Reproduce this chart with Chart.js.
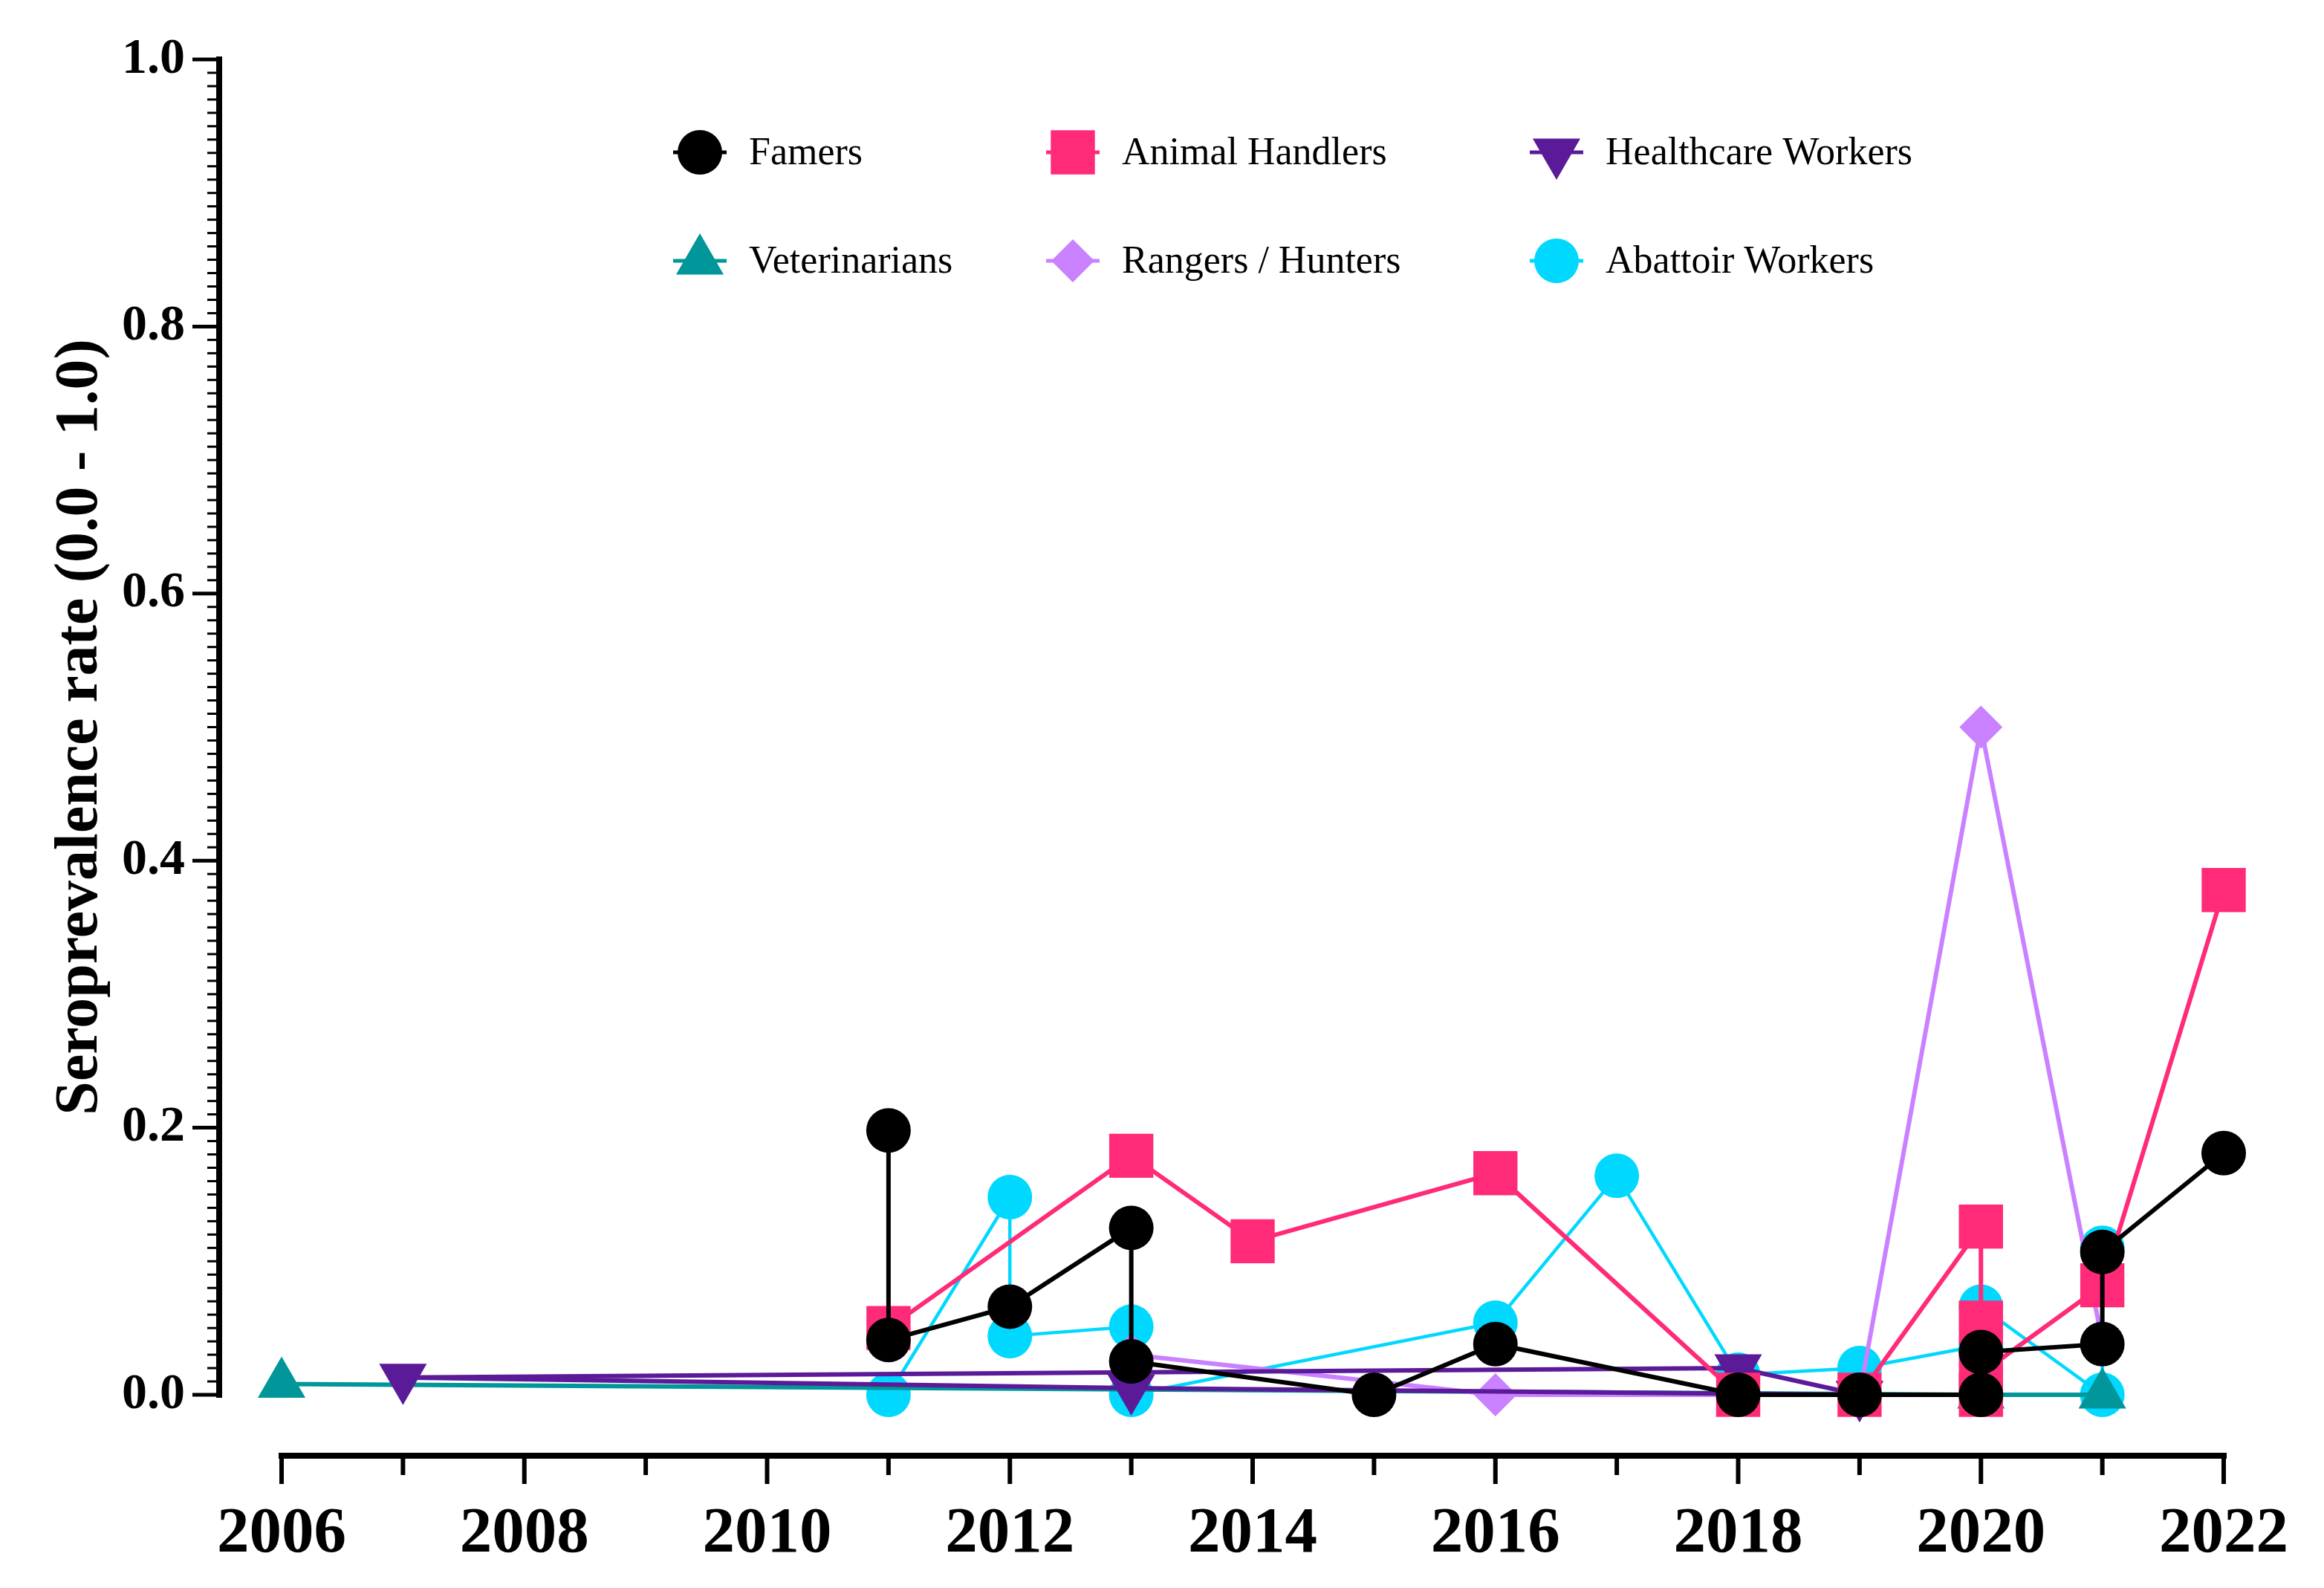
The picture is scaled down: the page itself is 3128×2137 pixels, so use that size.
<!DOCTYPE html>
<html>
<head>
<meta charset="utf-8">
<title>Seroprevalence rate</title>
<script src="https://cdn.jsdelivr.net/npm/chart.js@4.4.1/dist/chart.umd.min.js"></script>
<style>
html,body{margin:0;padding:0;background:#ffffff;}
#wrap{width:3128px;height:2137px;position:relative;}
</style>
</head>
<body>
<div id="wrap"><canvas id="lineChart"></canvas></div>
<script>
// ----------------------------
// Data
// ----------------------------

const yearMin = 2006;
const yearMax = 2022;
const xTickYears = [2006, 2008, 2010, 2012, 2014, 2016, 2018, 2020, 2022];
const yTickValues = [0, 0.2, 0.4, 0.6, 0.8, 1.0];

const famersYears = [2011, 2011, 2012, 2013, 2013, 2015, 2016, 2018, 2019, 2020, 2020, 2021, 2021, 2022];
const famersRates = [0.198, 0.041, 0.066, 0.125, 0.025, 0.0, 0.038, 0.0, 0.0, 0.0, 0.032, 0.038, 0.107, 0.181];

const handlersYears = [2011, 2013, 2014, 2016, 2018, 2019, 2020, 2020, 2020, 2020, 2021, 2022];
const handlersRates = [0.05, 0.179, 0.115, 0.166, 0.0, 0.0, 0.126, 0.054, 0.0, 0.016, 0.082, 0.378];

const healthYears = [2019, 2018, 2007, 2013, 2019];
const healthRates = [0.0, 0.02, 0.013, 0.005, 0.0];

const rangersYears = [2013, 2016, 2019, 2020, 2021];
const rangersRates = [0.03, 0.0, 0.0, 0.5, 0.04];

const vetsYears = [2006, 2020, 2021];
const vetsRates = [0.008, 0.0, 0.0];

const abattoirYears = [2011, 2012, 2012, 2013, 2013, 2016, 2017, 2018, 2019, 2020, 2020, 2021, 2021];
const abattoirRates = [0.0, 0.148, 0.044, 0.051, 0.0, 0.054, 0.164, 0.015, 0.02, 0.037, 0.066, 0.0, 0.11];

function toPoints(years, rates) {
    return years.map((yr, i) => ({ x: yr, y: rates[i] }));
}

// ----------------------------
// Series styles
// ----------------------------

function series(label, years, rates, color, style, radius, rotation, width) {
    return {
        label: label,
        data: toPoints(years, rates),
        borderColor: color,
        backgroundColor: color,
        pointBackgroundColor: color,
        pointBorderColor: color,
        pointBorderWidth: 0,
        pointStyle: style,
        pointRadius: radius,
        pointHoverRadius: radius,
        pointRotation: rotation,
        borderWidth: width,
        tension: 0,
        clip: false
    };
}

// dataset 0 is drawn on top
const datasets = [
    series("Famers", famersYears, famersRates, "#000000", "circle", 30, 0, 6),
    series("Animal Handlers", handlersYears, handlersRates, "#FF2A78", "rect", 42, 0, 6),
    series("Healthcare Workers", healthYears, healthRates, "#5B1A98", "triangle", 37, 180, 6),
    series("Rangers / Hunters", rangersYears, rangersRates, "#C981FF", "rectRot", 29, 0, 6),
    series("Veterinarians", vetsYears, vetsRates, "#00969A", "triangle", 37, 0, 6),
    series("Abattoir Workers", abattoirYears, abattoirRates, "#00D8FF", "circle", 30, 0, 4.5)
];

// legend grid: row 1 then row 2
const legendOrder = [
    "Famers", "Animal Handlers", "Healthcare Workers",
    "Veterinarians", "Rangers / Hunters", "Abattoir Workers"
];

// ----------------------------
// Prism-like offset axes
// ----------------------------

const axesPlugin = {
    id: "prismAxes",
    beforeDatasetsDraw(chart) {
        const ctx = chart.ctx;
        const xs = chart.scales.x;
        const ys = chart.scales.y;
        const axisX = chart.chartArea.left - 84;
        const axisY = chart.chartArea.bottom + 82;

        ctx.save();
        ctx.strokeStyle = "#000";
        ctx.lineCap = "butt";

        // y axis
        const yTop = ys.getPixelForValue(1);
        const yBot = ys.getPixelForValue(0);
        ctx.lineWidth = 8;
        ctx.beginPath();
        ctx.moveTo(axisX, yTop - 4);
        ctx.lineTo(axisX, yBot + 4);
        ctx.stroke();

        for (let i = 0; i <= 100; i++) {
            const py = ys.getPixelForValue(i / 100);
            const major = i % 20 === 0;
            ctx.lineWidth = major ? 5 : 3;
            ctx.beginPath();
            ctx.moveTo(axisX - (major ? 36 : 16), py);
            ctx.lineTo(axisX, py);
            ctx.stroke();
        }

        // x axis
        const xL = xs.getPixelForValue(yearMin);
        const xR = xs.getPixelForValue(yearMax);
        ctx.lineWidth = 8;
        ctx.beginPath();
        ctx.moveTo(xL - 4, axisY);
        ctx.lineTo(xR + 4, axisY);
        ctx.stroke();

        for (let yr = yearMin; yr <= yearMax; yr++) {
            const px = xs.getPixelForValue(yr);
            const major = (yr - yearMin) % 2 === 0;
            ctx.lineWidth = 6;
            ctx.beginPath();
            ctx.moveTo(px, axisY);
            ctx.lineTo(px, axisY + (major ? 38 : 26));
            ctx.stroke();
        }
        ctx.restore();
    }
};

// ----------------------------
// Legend (two rows, three columns)
// ----------------------------

function drawMarker(ctx, ds, x, y) {
    const opts = {
        pointStyle: ds.pointStyle,
        rotation: ds.pointRotation,
        radius: ds.pointRadius,
        borderWidth: 0
    };
    ctx.fillStyle = ds.pointBackgroundColor;
    ctx.strokeStyle = ds.pointBorderColor;
    if (Chart.helpers && Chart.helpers.drawPoint) {
        Chart.helpers.drawPoint(ctx, opts, x, y);
    } else {
        ctx.beginPath();
        ctx.arc(x, y, ds.pointRadius, 0, Math.PI * 2);
        ctx.fill();
    }
}

const legendPlugin = {
    id: "gridLegend",
    afterDraw(chart) {
        const ctx = chart.ctx;
        const colX = [942, 1444, 2095];
        const rowY = [205, 351];

        ctx.save();
        legendOrder.forEach((name, i) => {
            const ds = chart.data.datasets.find(d => d.label === name);
            const mx = colX[i % 3];
            const my = rowY[Math.floor(i / 3)];

            ctx.strokeStyle = ds.borderColor;
            ctx.lineWidth = 5;
            ctx.beginPath();
            ctx.moveTo(mx - 36, my);
            ctx.lineTo(mx + 36, my);
            ctx.stroke();

            drawMarker(ctx, ds, mx, my);

            ctx.fillStyle = "#000";
            ctx.font = "52px 'Liberation Serif'";
            ctx.textAlign = "left";
            ctx.textBaseline = "middle";
            ctx.fillText(name, mx + 66, my + 2);
        });
        ctx.restore();
    }
};

// ----------------------------
// Chart
// ----------------------------

new Chart(

document.getElementById("lineChart"),

{

type: "line",

data: {
    datasets: datasets
},

options: {
    responsive: true,
    maintainAspectRatio: false,
    devicePixelRatio: 1,
    animation: false,
    layout: {
        padding: { top: 80, right: 135, left: 0, bottom: 0 }
    },
    plugins: {
        legend: { display: false },
        tooltip: { enabled: false }
    },
    scales: {
        x: {
            type: "linear",
            min: yearMin,
            max: yearMax,
            grid: { display: false },
            border: { display: false },
            afterFit(scale) {
                scale.height = 260;
                scale.paddingLeft = 0;
                scale.paddingRight = 0;
            },
            afterBuildTicks(scale) {
                scale.ticks = xTickYears.map(v => ({ value: v }));
            },
            ticks: {
                autoSkip: false,
                maxRotation: 0,
                padding: 128,
                color: "#000",
                font: { family: "'Liberation Serif'", size: 87, weight: "bold" },
                callback: v => String(v)
            }
        },
        y: {
            type: "linear",
            min: 0,
            max: 1,
            grid: { display: false },
            border: { display: false },
            afterFit(scale) {
                scale.width = 379;
                scale.paddingTop = 0;
                scale.paddingBottom = 0;
            },
            afterBuildTicks(scale) {
                scale.ticks = yTickValues.map(v => ({ value: v }));
            },
            ticks: {
                autoSkip: false,
                padding: 122,
                color: "#000",
                font: { family: "'Liberation Serif'", size: 68, weight: "bold" },
                callback: v => Number(v).toFixed(1)
            },
            title: {
                display: true,
                text: "Seroprevalence rate (0.0 - 1.0)",
                color: "#000",
                padding: { top: 60, bottom: 0 },
                font: { family: "'Liberation Serif'", size: 82, weight: "bold" }
            }
        }
    }
},

plugins: [axesPlugin, legendPlugin]

}

);
</script>
</body>
</html>
